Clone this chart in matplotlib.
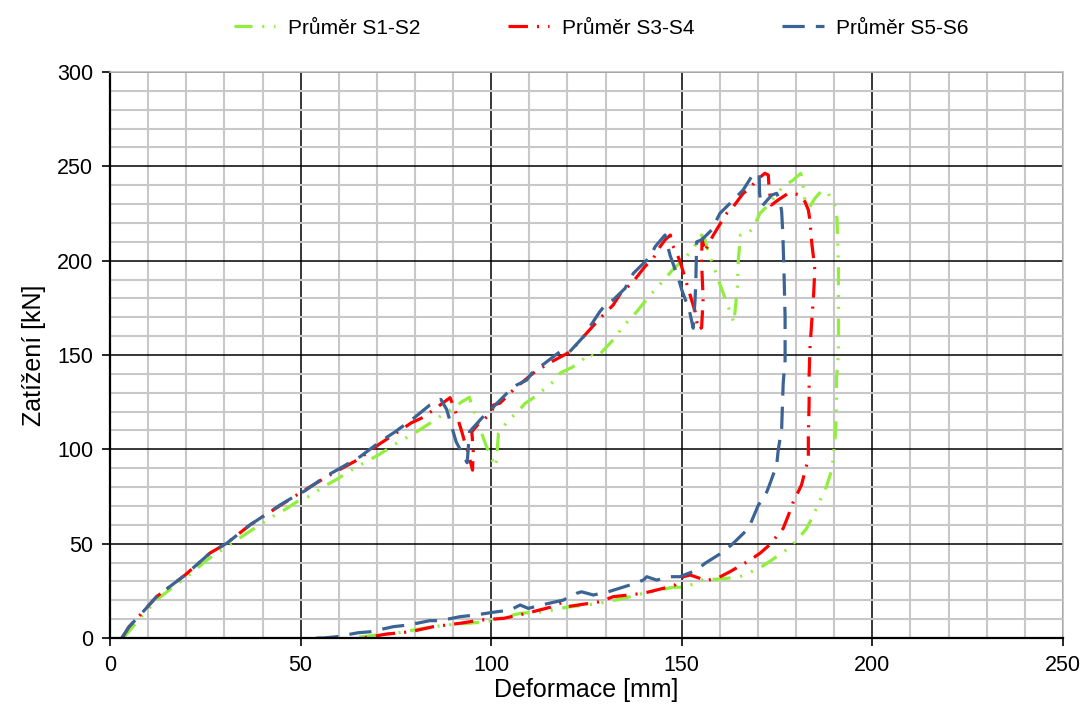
import matplotlib
matplotlib.use("Agg")
import matplotlib.pyplot as plt
from matplotlib.ticker import MultipleLocator

plt.rcParams['font.family'] = ['Liberation Sans', 'DejaVu Sans']
plt.rcParams['lines.scale_dashes'] = False

# Průměr S1-S2
green_x = [3.5, 8.5, 13, 20.5, 25.4, 30.6, 38.5, 43.3, 46.4, 49, 52, 56.8, 59.9, 62.5, 65.6, 70.4,
           73.5, 76.1, 79.1, 83.9, 86.8, 89.5, 92.3, 94.3, 94.8, 97.5, 98.6, 101, 101.4, 101.9,
           104.5, 106.7, 108.9, 111.5, 116.3, 118.2, 121.1, 123.7, 125.9, 126.8, 128.1, 130.3,
           132.5, 134.2, 138.2, 140.3, 142.5, 144.5, 148, 150.8, 153, 155.2, 156.1, 157, 158.3,
           159.3, 160.5, 162.5, 163.7, 164, 164.6, 164.8, 165.4, 167.7, 169.2, 170.5, 172.7,
           175.8, 176.6, 179.2, 181.2, 181.7, 182.4, 183.6, 184.9, 186.7, 188.3, 190.1, 190.7,
           190.8, 191.1, 191.1, 190.6, 190.6, 190.4, 190.2, 189.6, 189, 188, 186.7, 184.1, 182.6,
           180.3, 178.4, 173.6, 170.7, 167.7, 164.8, 158.7, 156.1, 153.2, 150, 147.8, 139.9,
           134.7, 128.5, 119.8, 113.7, 107.6, 98.8, 88.3, 84.8, 75.6, 63]
green_y = [0, 12, 21.5, 33, 41.3, 48.4, 59, 65.2, 68.7, 72.2, 74.9, 81.1, 84.6, 88.1, 91.7, 97,
           101, 104.4, 107.6, 113.8, 117.7, 121.2, 125.2, 127.6, 124, 108.5, 102.3, 90.8, 94.3, 108.5,
           115.5, 119.4, 124.4, 127.9, 135.9, 140.6, 143.3, 147, 150.9, 149.1, 149.5, 154.4,
           159, 164.2, 173, 178.3, 183.5, 188, 196, 201.2, 206.5, 213.6, 211, 203.9, 197.7,
           191.2, 184.8, 173.8, 167.1, 173.8, 186.2, 199.5, 213.6, 214.8, 219.4, 225.1, 229.5,
           237.5, 239.2, 242.7, 246.3, 241.8, 230.4, 228.6, 233, 237.1, 236, 229.5, 222.5,
           216.7, 196.8, 150.9, 137.6, 125.2, 112, 105.8, 93.4, 86.9, 80.6, 74.9, 63.4, 57.6,
           52.3, 48.1, 41.3, 37.5, 34.6, 32.2, 31.1, 31.6, 28.6, 26.9, 26.9, 23.7,
           21, 18.4, 16.3, 13.9, 13.1, 8.6, 6.9, 6, 2.8, 0]

# Průměr S3-S4
red_x = [3.1, 5, 7.9, 12.2, 19.7, 26.2, 30.6, 36.7, 44.6, 50.3, 58.5, 65, 70.8, 76.1, 79, 82.2,
         86.6, 89.2, 90.5, 92.3, 93.1, 94, 95.1, 95.3, 94.9, 97.1, 100.1, 100.6, 102.3, 106.2,
         111.5, 115.9, 120.7, 124.2, 128.5, 132, 134.2, 136.9, 140.3, 142.5, 144.3, 145.6, 147,
         147.3, 148.7, 149.7, 151.4, 152.6, 153.5, 154.3, 155.2, 155.6, 155.2, 155.3, 156.1, 157,
         158.3, 159.6, 161.8, 163.5, 166.1, 167.9, 169.6, 171.8, 172.7, 172.9, 173.5, 175.3,
         177.9, 179.2, 181, 182.3, 183.2, 183.6, 184.1, 184.6, 184.9, 184.6, 184, 183.6, 183.5,
         183.4, 183.4, 183.4, 183.2, 183.2, 182.3, 181.4, 179.1, 177.9, 176.6, 173, 170.5, 167.9,
         162.6, 159.8, 157, 156.5, 152.2, 150.4, 148.2, 145.1, 139.9, 132, 128.5, 119.8, 118.5,
         117, 115.5, 109.3, 103.2, 97.1, 91.8, 84.8, 78.7, 72.6, 66.4]
red_y = [0, 6, 12.2, 21.9, 33.4, 45, 50.2, 59.9, 70.2, 77.5, 87.4, 94.5, 103, 110, 114, 117,
         123.5, 127.4, 120.8, 109.3, 103.4, 97.9, 89, 100, 109.3, 114.6, 119, 123.5, 124.5, 132.3,
         141.2, 146.5, 151.7, 159.7, 169.4, 176.5, 183.5, 188, 196.8, 201.2, 207.4, 211, 213.6,
         209.2, 203.9, 198.6, 187.1, 179, 173, 163.2, 164.5, 180, 198.6, 211.5, 204.7, 209,
         213.6, 218, 225.1, 228.6, 235.7, 238.4, 242.7, 246.3, 245.4, 237.8, 229.5, 232.2,
         235.7, 235.7, 234.8, 231.3, 226.9, 221.6, 209.2, 201, 195, 182.7, 165, 152.6, 145.8,
         138.9, 131.5, 124.4, 106.7, 95.2, 88.1, 81.1, 71.4, 64.7, 58.1, 49.3, 44.9, 41.3,
         35.1, 32.2, 30.7, 30.4, 33.4, 32.5, 28.1, 26.3, 23.7, 21.9, 19.2, 16.6, 18.7,
         17.7, 16.3, 13.1, 10.4, 9.5, 7.8, 6, 3.3, 2.1, 0]

# Průměr S5-S6
blue_x = [3.1, 5, 7.9, 12.2, 19.7, 26.2, 30.6, 36.7, 44.6, 49, 51.2, 56.4, 59.5, 65.6, 70.8, 74.8,
          79.6, 83.9, 86.8, 88.3, 89.9, 90.8, 93.7, 94.3, 97.5, 100.1, 104.1, 106.7, 109.3, 110.6,
          118, 120.2, 124.2, 125.9, 128.5, 130.3, 132, 135.1, 137.3, 141.7, 143, 145.6, 146.9,
          149.1, 150, 152, 153, 153.5, 153.7, 153.9, 155.2, 157.8, 160, 163.1, 166.1, 168.3,
          170.3, 170.4, 170.9, 173.6, 174.9, 175.8, 176.2, 176.5, 176.8, 177.1, 177.1, 176.6,
          176.2, 175.3, 174.9, 173, 171.8, 170.1, 168.8, 167.5, 163.5, 160.9, 156.1, 153.9, 149.5,
          146.9, 143.4, 140.8, 139.9, 136.4, 130.7, 126.8, 123.7, 122.4, 118.9, 113.2, 109.7,
          107.6, 104.9, 101.4, 95.8, 91.8, 86.6, 83.9, 78.3, 74.3, 68.2, 65.1, 59.5, 56, 53.8]
blue_y = [0, 6, 12.2, 21.9, 33.4, 45, 50.2, 59.9, 70.5, 75.8, 78.1, 85.5, 89, 96.1, 104, 109.3,
          116.4, 123.5, 126.5, 121.2, 110.2, 104, 92.9, 109.3, 116.5, 121.5, 129.7, 134.1, 136.7, 140.3,
          151.7, 150.9, 159.7, 165, 173, 177.4, 179.2, 185.3, 193.3, 202.1, 207.4, 213.6, 203,
          190.6, 184.5, 173.5, 164.2, 180, 190.6, 210, 211, 216.2, 225.1, 231.3, 237.5, 244.5,
          246.3, 235.7, 228.6, 234.8, 235.7, 231.3, 226, 214.5, 195, 170, 147.3, 135,
          111.1, 99.6, 91.7, 81.1, 74.9, 70.5, 64.3, 58.1, 50.2, 45.7, 39.6, 36, 32.5,
          32.5, 30.7, 32.5, 30.7, 28.1, 24.5, 22.8, 24.5, 23.7, 20.1, 17.5, 15.7,
          17.5, 14.8, 13.9, 12.2, 11.3, 9.2, 9.2, 6.9, 6, 3.3, 2.8, 0.7, 0, 0]

fig = plt.figure(figsize=(10.83, 7.18), dpi=100)
ax = fig.add_axes([0.1016, 0.1114, 0.8799, 0.7883])

ax.plot(green_x, green_y, color='#8FEF3C', lw=2.3, dashes=(13, 7, 1.5, 7, 1.5, 7),
        label='Průměr S1-S2')
ax.plot(red_x, red_y, color='#FF0000', lw=2.3, dashes=(14, 6.5, 1.5, 6.5),
        label='Průměr S3-S4')
ax.plot(blue_x, blue_y, color='#3B6494', lw=2.3, dashes=(16, 8),
        label='Průměr S5-S6')

ax.set_xlim(0, 250)
ax.set_ylim(0, 300)
ax.xaxis.set_major_locator(MultipleLocator(50))
ax.yaxis.set_major_locator(MultipleLocator(50))
ax.xaxis.set_minor_locator(MultipleLocator(10))
ax.yaxis.set_minor_locator(MultipleLocator(10))
ax.set_axisbelow(True)
ax.grid(which='minor', color='#C8C8C8', lw=1.5)
ax.grid(which='major', color='black', lw=1.1)
ax.tick_params(which='major', direction='out', length=6, width=1.2, labelsize=15.5, pad=6)
ax.tick_params(which='minor', length=0)

for s in ['left', 'bottom']:
    ax.spines[s].set_linewidth(1.6)
    ax.spines[s].set_color('black')
for s in ['top', 'right']:
    ax.spines[s].set_linewidth(1.2)
    ax.spines[s].set_color('#BDBDBD')

ax.set_xlabel('Deformace [mm]', fontsize=18, labelpad=2)
ax.set_ylabel('Zatížení [kN]', fontsize=18, labelpad=8)

fig.legend(loc='upper center', bbox_to_anchor=(0.555, 1.0), ncol=3, frameon=False,
           fontsize=15, handlelength=2.0, handletextpad=0.6, columnspacing=4.2)

fig.savefig('out.png', dpi=100)
